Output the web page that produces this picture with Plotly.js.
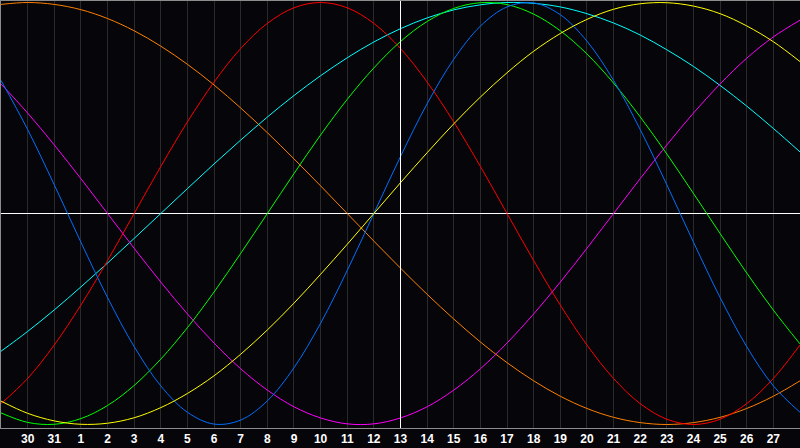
<!DOCTYPE html>
<html>
<head>
<meta charset="utf-8">
<script src="https://cdn.plot.ly/plotly-3.0.1.min.js"></script>
<style>
  html, body { margin: 0; padding: 0; background: #06050a; }
  #chart { width: 800px; height: 448px; }
</style>
</head>
<body>
<div id="chart"></div>
<script>
// day labels, one per column edge (first and last are off-axis)
const dayLabels = ["29", "30", "31", "1", "2", "3", "4", "5", "6", "7", "8", "9", "10", "11", "12",
  "13", "14", "15", "16", "17", "18", "19", "20", "21", "22", "23", "24", "25", "26", "27", "28"];
const todayLabel = "13";
const yRange = [-1.0166, 1.0071];

// values, -1 .. 1
const physical = [0.631, 0.398, 0.136, -0.136, -0.398, -0.631, -0.817, -0.942, -0.998, -0.979, -0.888, -0.731,
  -0.520, -0.270, 0, 0.270, 0.520, 0.731, 0.888, 0.979, 0.998, 0.942, 0.817, 0.631, 0.398, 0.136, -0.136,
  -0.398, -0.631, -0.817, -0.942];
const emotional = [-0.901, -0.782, -0.623, -0.434, -0.223, 0, 0.223, 0.434, 0.623, 0.782, 0.901, 0.975, 1.000,
  0.975, 0.901, 0.782, 0.623, 0.434, 0.223, 0, -0.223, -0.434, -0.623, -0.782, -0.901, -0.975, -1.000, -0.975,
  -0.901, -0.782, -0.623];
const intellectual = [-0.945, -0.990, -0.999, -0.972, -0.910, -0.815, -0.690, -0.541, -0.372, -0.189, 0, 0.189,
  0.372, 0.541, 0.690, 0.815, 0.910, 0.972, 0.999, 0.990, 0.945, 0.866, 0.756, 0.618, 0.458, 0.282, 0.095,
  -0.095, -0.282, -0.458, -0.618];
const intuitive = [0.614, 0.476, 0.325, 0.165, 0, -0.165, -0.325, -0.476, -0.614, -0.736, -0.837, -0.916, -0.969,
  -0.997, -0.997, -0.969, -0.916, -0.837, -0.736, -0.614, -0.476, -0.325, -0.165, 0, 0.165, 0.325, 0.476, 0.614,
  0.736, 0.837, 0.916];
const aesthetic = [-0.889, -0.947, -0.983, -0.999, -0.994, -0.968, -0.920, -0.853, -0.769, -0.667, -0.552, -0.425,
  -0.288, -0.146, 0, 0.146, 0.288, 0.425, 0.552, 0.667, 0.769, 0.853, 0.920, 0.968, 0.994, 0.999, 0.983, 0.947,
  0.889, 0.814, 0.720];
const awareness = [0.991, 1.000, 0.991, 0.966, 0.924, 0.866, 0.793, 0.707, 0.609, 0.500, 0.383, 0.259, 0.131, 0,
  -0.131, -0.259, -0.383, -0.500, -0.609, -0.707, -0.793, -0.866, -0.924, -0.966, -0.991, -1.000, -0.991, -0.966,
  -0.924, -0.866, -0.793];
const spiritual = [-0.653, -0.559, -0.457, -0.348, -0.235, -0.118, 0, 0.118, 0.235, 0.348, 0.457, 0.559, 0.653,
  0.738, 0.813, 0.876, 0.927, 0.965, 0.989, 1.000, 0.996, 0.979, 0.947, 0.903, 0.846, 0.776, 0.697, 0.607, 0.509,
  0.403, 0.292];

const series = [
  { name: "Awareness", values: awareness, color: "#ff8000" },
  { name: "Spiritual", values: spiritual, color: "#00ffff" },
  { name: "Intuitive", values: intuitive, color: "#ff00ff" },
  { name: "Emotional", values: emotional, color: "#ff0000" },
  { name: "Intellectual", values: intellectual, color: "#00ff00" },
  { name: "Physical", values: physical, color: "#0070ff" },
  { name: "Aesthetic", values: aesthetic, color: "#ffff00" },
];

const xIndex = dayLabels.map((_, i) => i);
const tickIndex = xIndex.slice(1, -1);
const todayIndex = dayLabels.indexOf(todayLabel);

const data = series.map((s) => ({
  type: "scatter",
  mode: "lines",
  name: s.name,
  x: xIndex,
  y: s.values,
  line: { color: s.color, width: 1, shape: "spline", smoothing: 1 },
  hoverinfo: "skip",
}));

const layout = {
  width: 800,
  height: 448,
  margin: { l: 1, r: 0, t: 1, b: 20 },
  paper_bgcolor: "#06050a",
  plot_bgcolor: "#06050a",
  showlegend: false,
  xaxis: {
    range: [0, xIndex.length - 1],
    tickmode: "array",
    tickvals: tickIndex,
    ticktext: tickIndex.map((i) => dayLabels[i]),
    ticks: "",
    showgrid: true,
    gridcolor: "#2a2a2a",
    gridwidth: 1,
    zeroline: false,
    showline: true,
    mirror: true,
    linecolor: "#8c8c8c",
    linewidth: 1,
    tickfont: { family: "Liberation Sans", size: 12, color: "#ffffff", weight: "bold" },
    fixedrange: true,
  },
  yaxis: {
    range: yRange,
    showgrid: false,
    showticklabels: false,
    ticks: "",
    zeroline: true,
    zerolinecolor: "#ffffff",
    zerolinewidth: 1,
    showline: true,
    linecolor: "#8c8c8c",
    linewidth: 1,
    fixedrange: true,
  },
  shapes: [
    {
      type: "line",
      xref: "x",
      yref: "y",
      x0: todayIndex,
      x1: todayIndex,
      y0: yRange[0],
      y1: yRange[1],
      line: { color: "#ffffff", width: 1 },
      layer: "above",
    },
  ],
};

Plotly.newPlot("chart", data, layout, { displayModeBar: false, staticPlot: true });
</script>
</body>
</html>
